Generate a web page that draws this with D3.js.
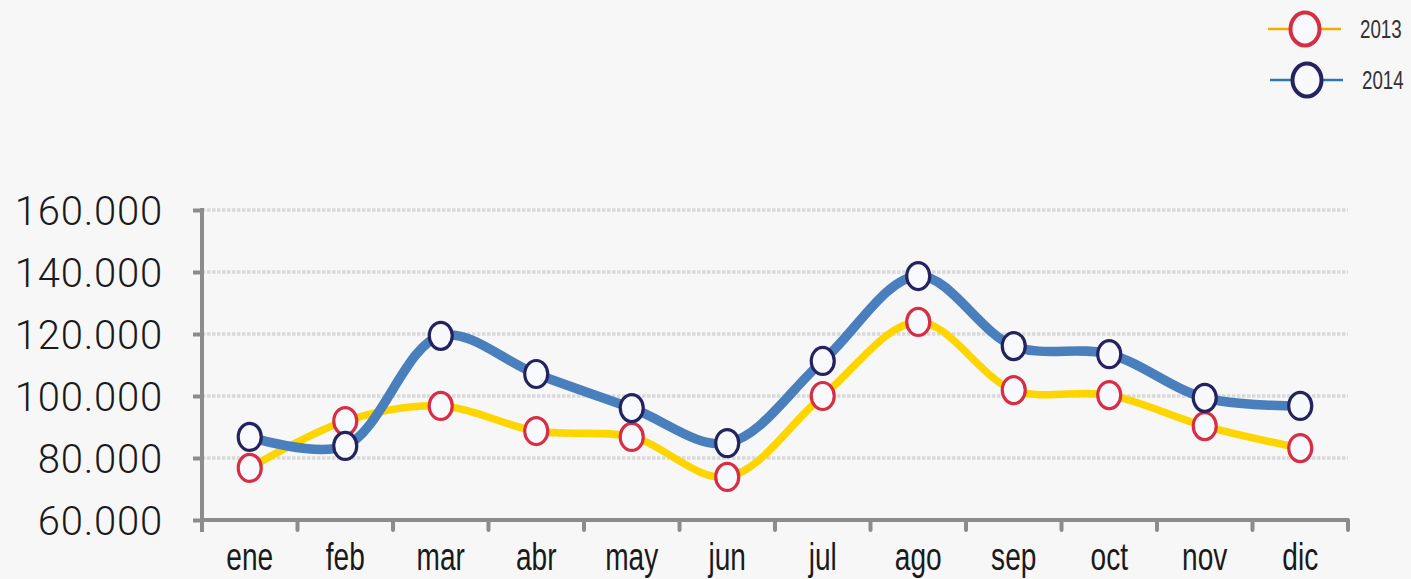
<!DOCTYPE html>
<html><head><meta charset="utf-8">
<script src="https://cdn.jsdelivr.net/npm/d3@7"></script>
<style>
html,body{margin:0;padding:0;background:#f7f7f7;}
svg{display:block;}
</style></head>
<body>
<svg id="chart" width="1411" height="579"></svg>
<script>
const months = ["ene","feb","mar","abr","may","jun","jul","ago","sep","oct","nov","dic"];
const values2013 = [76800, 91900, 96800, 88700, 86800, 73900, 100000, 123900, 101900, 100300, 90300, 83200];
const values2014 = [86800, 83900, 119400, 107100, 96100, 84800, 111300, 138700, 116100, 113500, 99400, 96800];
const yTicks = [60000, 80000, 100000, 120000, 140000, 160000];
const seriesNames = ["2013", "2014"];

(function(){
const svg = d3.select("#chart");
svg.append("rect").attr("width",1411).attr("height",579).attr("fill","#f7f7f7");

const pLeft = 202, pRight = 1348, pTop = 210, pBottom = 520;
const x = d3.scaleBand().domain(months).range([pLeft, pRight]);
const y = d3.scaleLinear().domain([60000,160000]).range([pBottom, pTop]);
const fmt = v => d3.format(",")(v).replace(/,/g, ".");

// gridlines
svg.append("g").selectAll("line").data(yTicks.filter(d => d > 60000)).join("line")
  .attr("x1", pLeft).attr("x2", pRight)
  .attr("y1", d => y(d)).attr("y2", d => y(d))
  .attr("stroke", "#d9d9d9").attr("stroke-width", 3.5)
  .attr("stroke-dasharray", "3.5,1.5");

// y axis
const yAxis = svg.append("g").attr("transform", `translate(${pLeft},0)`)
  .call(d3.axisLeft(y).tickValues(yTicks).tickSize(9).tickPadding(30).tickFormat(fmt));
yAxis.select(".domain").attr("stroke", "#8c8c8c").attr("stroke-width", 4)
  .attr("d", `M0,${pTop - 2}V${pBottom + 12}`);
yAxis.selectAll(".tick line").attr("stroke", "#8c8c8c").attr("stroke-width", 4);
yAxis.selectAll(".tick text").attr("font-family", "Roboto, Liberation Sans, sans-serif")
  .attr("font-weight", 300).attr("letter-spacing", 0.8)
  .attr("font-size", 40).attr("fill", "#1a1a1a").attr("dy", "0.36em");

// x axis
const xAxis = svg.append("g").attr("transform", `translate(0,${pBottom})`)
  .call(d3.axisBottom(x).tickSize(0).tickPadding(0));
xAxis.select(".domain").attr("stroke", "#8c8c8c").attr("stroke-width", 4)
  .attr("d", `M${pLeft},0H${pRight}`);
xAxis.selectAll(".tick text").attr("font-family", "Liberation Sans, Arial, sans-serif")
  .attr("font-size", 39).attr("fill", "#1a1a1a").attr("dy", 0).attr("y", 0)
  .attr("transform", "translate(0,50) scale(0.72,1)");
const edges = months.map(m => x(m)).concat([pRight]);
svg.append("g").selectAll("line").data(edges).join("line")
  .attr("x1", d => d).attr("x2", d => d)
  .attr("y1", pBottom).attr("y2", pBottom + 10)
  .attr("stroke", "#8c8c8c").attr("stroke-width", 4).attr("stroke-linecap","round");

const cx = m => x(m) + x.bandwidth() / 2;
const line = d3.line().x((d, i) => cx(months[i])).y(d => y(d)).curve(d3.curveCatmullRom.alpha(0.5));

svg.append("path").datum(values2013).attr("d", line)
  .attr("fill", "none").attr("stroke", "#ffd500").attr("stroke-width", 7.5);
svg.append("path").datum(values2014).attr("d", line)
  .attr("fill", "none").attr("stroke", "#4a7fbd").attr("stroke-width", 9.5);

function markers(vals, color) {
  svg.append("g").selectAll("ellipse").data(vals).join("ellipse")
    .attr("cx", (d, i) => cx(months[i])).attr("cy", d => y(d))
    .attr("rx", 11.5).attr("ry", 13.5)
    .attr("fill", "#f8f9fc").attr("stroke", color).attr("stroke-width", 3.2);
}
markers(values2013, "#d62f45");
markers(values2014, "#24235f");

// legend
const legend = [
  {name: seriesNames[0], line: "#f5aa00", mark: "#d62f45", y: 29, x0: 1268},
  {name: seriesNames[1], line: "#2e75b6", mark: "#24235f", y: 80, x0: 1270}
];
const lg = svg.append("g").selectAll("g").data(legend).join("g");
lg.append("line").attr("x1", d => d.x0).attr("x2", d => d.x0 + 73)
  .attr("y1", d => d.y).attr("y2", d => d.y).attr("stroke", d => d.line).attr("stroke-width", 2.5);
lg.append("ellipse").attr("cx", d => d.x0 + 37).attr("cy", d => d.y).attr("rx", 14.5).attr("ry", 16.5)
  .attr("fill", "#f8f9fc").attr("stroke", d => d.mark).attr("stroke-width", 4);
lg.append("text").attr("x", 0).attr("y", 0)
  .attr("transform", d => `translate(${d.x0 + 92},${d.y + 9}) scale(0.75,1)`)
  .attr("font-family", "Liberation Sans, Arial, sans-serif")
  .attr("font-size", 25).attr("fill", "#333").text(d => d.name);
})();
</script>
</body></html>
